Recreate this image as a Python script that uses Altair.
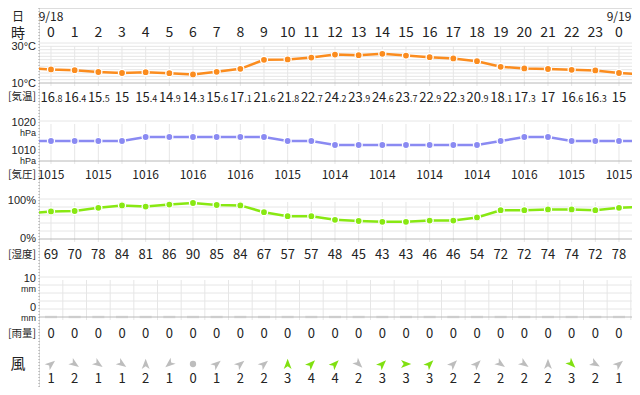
import altair as alt
import numpy as np
import pandas as pd

# ---------------- data ----------------
hours = list(range(25))
hour_labels = [h % 24 for h in hours]
temps = [16.8, 16.4, 15.5, 15, 15.4, 14.9, 14.3, 15.6, 17.1, 21.6, 21.8, 22.7, 24.2,
         23.9, 24.6, 23.7, 22.9, 22.3, 20.9, 18.1, 17.3, 17, 16.6, 16.3, 15]
pressure = [1015, 1015, 1015, 1015, 1016, 1016, 1016, 1016, 1016, 1016, 1015, 1015, 1014,
            1014, 1014, 1014, 1014, 1014, 1014, 1015, 1016, 1016, 1015, 1015, 1015]
humidity = [69, 70, 78, 84, 81, 86, 90, 85, 84, 67, 57, 57, 48, 45, 43, 43, 46, 46, 54,
            72, 72, 74, 74, 72, 78]
rain = [0] * 25
wind_dir = [50, 125, 125, 125, 0, 230, 0, 50, 50, 50, 0, 45, 45, 135, 45, 90, 45, 45, 45,
            125, 125, 0, 135, 120, 50]
wind_speed = [1, 2, 1, 1, 2, 1, 0, 1, 2, 2, 3, 4, 4, 2, 3, 3, 3, 2, 2, 2, 2, 2, 3, 2, 1]
# values just outside the shown day (line continues past the edges)
edge_hours = [-1, 25]
edge_temp = [17.5, 14.4]
edge_press = [1015, 1015]
edge_hum = [64, 80]
dates = ["9/18", "9/19"]
date_hours = [0, 24]

temp_grid = list(np.linspace(10, 30, 13))
hum_grid = [20, 40, 60, 80, 100]
rain_grid = [2, 4, 6, 8, 10]

# ---------------- tables ----------------
df = pd.DataFrame({"hour": hours, "label": hour_labels, "temp": temps, "press": pressure,
                   "hum": humidity, "rain": rain, "dir": wind_dir, "speed": wind_speed})
df["ti"] = [str(int(t)) for t in temps]
df["td"] = ["." + str(int(round(t * 10)) % 10) if round(t * 10) % 10 else "" for t in temps]
df["hx"] = df["hour"] + 0.5

line_df = pd.concat([df[["hour", "temp", "press", "hum"]],
                     pd.DataFrame({"hour": edge_hours, "temp": edge_temp,
                                   "press": edge_press, "hum": edge_hum})]).sort_values("hour")
date_df = pd.DataFrame({"hour": date_hours, "d": dates})
one = alt.Data(values=[{}])

# ---------------- style ----------------
LEFT = 31
W, H = 593, 379
FONT = "Noto Sans CJK JP"
AXF = "Liberation Sans"
ORANGE = "#fb8c1e"
BLUE = "#8a8af2"
LIME = "#88e812"
WGREEN = "#80e010"
WGRAY = "#bdbdbd"
GRID = "#e6e6e6"
BASE = "#b8b8b8"
TXT = "#222222"

x_scale = alt.Scale(domain=[-0.507, 24.55], nice=False, zero=False)
X = alt.X("hour:Q", scale=x_scale, axis=None)
temp_s = alt.Scale(domain=[10, 30], range=[75, 35], nice=False, zero=False)
press_s = alt.Scale(domain=[1010, 1020], range=[153, 113], nice=False, zero=False)
hum_s = alt.Scale(domain=[0, 100], range=[231, 191], nice=False, zero=False)
rain_s = alt.Scale(domain=[0, 10], range=[309, 269], nice=False, zero=False)

layers = []


def hgrid(values, scale, color):
    return alt.Chart(pd.DataFrame({"v": values})).mark_rule(color=color, strokeWidth=1).encode(
        y=alt.Y("v:Q", scale=scale, axis=None), x=alt.value(0), x2=alt.value("width"))


def vgrid(scale, top, bottom, field="hour"):
    return alt.Chart(df).mark_rule(color=GRID, strokeWidth=1, yOffset=3, y2Offset=3).encode(
        x=alt.X(f"{field}:Q", scale=x_scale, axis=None),
        y=alt.Y(datum=top, scale=scale, axis=None), y2=alt.Y2(datum=bottom))


def ltext(text, y, size=11, align="right", x=-3, dy=0, scale=None, baseline="middle", font=AXF):
    mk = alt.Chart(one).mark_text(text=text, fontSize=size, align=align, baseline=baseline,
                                  dy=dy, font=font, color=TXT)
    if scale is None:
        return mk.encode(x=alt.value(x), y=alt.value(y))
    return mk.encode(x=alt.value(x), y=alt.Y(datum=y, scale=scale, axis=None))


# grids
layers += [hgrid(temp_grid[1:], temp_s, GRID), vgrid(temp_s, 30, 10), hgrid([10], temp_s, BASE)]
layers += [hgrid([1020], press_s, GRID), vgrid(press_s, 1020, 1010), hgrid([1010], press_s, BASE)]
layers += [hgrid(hum_grid, hum_s, GRID), vgrid(hum_s, 100, 0), hgrid([0], hum_s, BASE)]
layers += [hgrid(rain_grid, rain_s, GRID), vgrid(rain_s, 10, 0, field="hx")]
layers.append(alt.Chart(df).mark_tick(orient="horizontal", color="#d6d6d6", thickness=2.5, size=12)
              .encode(x=X, y=alt.Y("rain:Q", scale=rain_s, axis=None)))
layers.append(hgrid([0], rain_s, BASE))

# dotted separator
layers.append(alt.Chart(one).mark_rule(color="#9a9a9a", strokeDash=[1, 2], strokeWidth=1)
              .encode(x=alt.value(0), y=alt.value(0), y2=alt.value("height")))

# series
for field, scale, color in [("temp", temp_s, ORANGE), ("press", press_s, BLUE), ("hum", hum_s, LIME)]:
    layers.append(alt.Chart(line_df).mark_line(color=color, strokeWidth=2.5, clip=True)
                  .encode(x=X, y=alt.Y(f"{field}:Q", scale=scale, axis=None)))
    layers.append(alt.Chart(df).mark_circle(color=color, size=50, opacity=1, stroke="white",
                                            strokeWidth=1.3)
                  .encode(x=X, y=alt.Y(f"{field}:Q", scale=scale, axis=None)))

# header rows
layers.append(alt.Chart(date_df).mark_text(fontSize=12, font=FONT, color=TXT, baseline="top")
              .encode(x=X, y=alt.value(4), text="d:N"))
layers.append(alt.Chart(df).mark_text(fontSize=14, font=FONT, color=TXT, baseline="middle")
              .encode(x=X, y=alt.value(25), text="label:N"))

# temperature value row
dec = alt.Chart(df).transform_filter("datum.td != ''")
layers.append(dec.mark_text(fontSize=13, font=FONT, color=TXT, align="right", dx=4,
                            baseline="alphabetic")
              .encode(x=X, y=alt.value(94), text="ti:N"))
layers.append(dec.mark_text(fontSize=9, font=FONT, color=TXT, align="left", dx=4,
                            baseline="alphabetic")
              .encode(x=X, y=alt.value(94), text="td:N"))
layers.append(alt.Chart(df).transform_filter("datum.td == ''")
              .mark_text(fontSize=13, font=FONT, color=TXT, baseline="alphabetic")
              .encode(x=X, y=alt.value(94), text="ti:N"))

# pressure / humidity / rain rows
layers.append(alt.Chart(df).transform_filter("datum.hour % 2 == 0")
              .mark_text(fontSize=12, font=FONT, color=TXT, baseline="middle")
              .encode(x=X, y=alt.value(167), text="press:N"))
layers.append(alt.Chart(df).mark_text(fontSize=13, font=FONT, color=TXT, baseline="middle")
              .encode(x=X, y=alt.value(247), text="hum:N"))
layers.append(alt.Chart(df).mark_text(fontSize=13, font=FONT, color=TXT, baseline="middle")
              .encode(x=X, y=alt.value(326), text="rain:N"))

# wind
ARROW = "M0,-1L0.75,0.95L0,0.45L-0.75,0.95Z"
layers.append(alt.Chart(df).transform_filter("datum.speed > 0")
              .mark_point(shape=ARROW, filled=True, size=110, opacity=1, strokeWidth=0)
              .encode(x=X, y=alt.value(356),
                      angle=alt.Angle("dir:Q", scale=alt.Scale(domain=[0, 360], range=[0, 360])),
                      color=alt.condition("datum.speed >= 3", alt.value(WGREEN), alt.value(WGRAY))))
layers.append(alt.Chart(df).transform_filter("datum.speed == 0")
              .mark_circle(size=40, color=WGRAY, opacity=1)
              .encode(x=X, y=alt.value(356)))
layers.append(alt.Chart(df).mark_text(fontSize=13, font=FONT, color=TXT, baseline="middle")
              .encode(x=X, y=alt.value(371), text="speed:N"))

# left labels
layers += [
    ltext("日", 4, size=12, align="center", x=-21, baseline="top", font=FONT),
    ltext("時", 26, size=14, align="center", x=-21, font=FONT),
    ltext("30°C", 30, scale=temp_s, dy=4),
    ltext("10°C", 10, scale=temp_s, dy=1),
    ltext("[気温]", 89, size=10.5, align="left", x=-LEFT, font=FONT),
    ltext("1020", 1020, scale=press_s, dy=2),
    ltext("hPa", 1020, scale=press_s, dy=12, size=9),
    ltext("1010", 1010, scale=press_s, dy=-10),
    ltext("hPa", 1010, scale=press_s, dy=0, size=9),
    ltext("[気圧]", 167, size=10.5, align="left", x=-LEFT, font=FONT),
    ltext("100%", 100, scale=hum_s, dy=2),
    ltext("0%", 0, scale=hum_s, dy=0),
    ltext("[湿度]", 247, size=10.5, align="left", x=-LEFT, font=FONT),
    ltext("10", 10, scale=rain_s, dy=2),
    ltext("mm", 10, scale=rain_s, dy=12, size=9),
    ltext("0", 0, scale=rain_s, dy=-9),
    ltext("mm", 0, scale=rain_s, dy=1, size=9),
    ltext("[雨量]", 326, size=10.5, align="left", x=-LEFT, font=FONT),
    ltext("風", 356, size=15, align="center", x=-21, font=FONT),
]

chart = alt.layer(*layers).resolve_scale(y="independent").properties(
    width=W, height=H,
    padding={"left": LEFT, "top": 0, "right": 0, "bottom": 0},
    autosize=alt.AutoSizeParams(type="none"),
).configure_view(strokeWidth=0).configure(font=FONT)

chart.save("out.html", embed_options={"renderer": "svg", "actions": False})
